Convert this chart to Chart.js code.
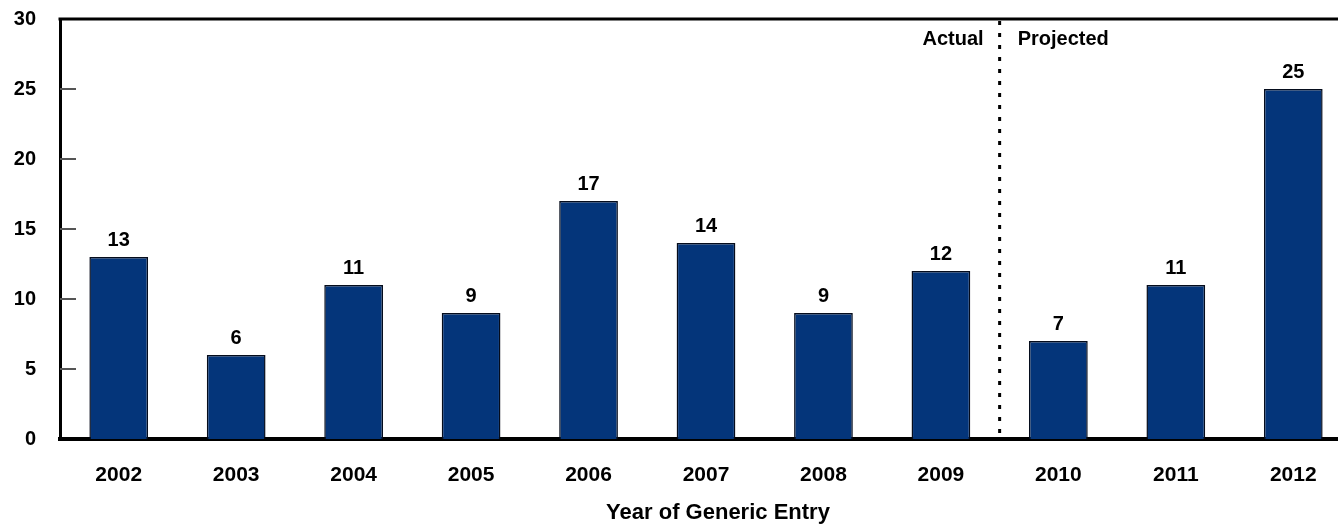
<!DOCTYPE html>
<html>
<head>
<meta charset="utf-8">
<title>Year of Generic Entry</title>
<script src="https://cdn.jsdelivr.net/npm/chart.js@4/dist/chart.umd.min.js"></script>
<style>
  html, body { margin: 0; padding: 0; background: #ffffff; overflow: hidden; }
  #wrap { position: relative; width: 1352px; height: 527px; }
</style>
</head>
<body>
<div id="wrap"><canvas id="chart"></canvas></div>
<script>
// Number of generic entries per year
const years = ['2002', '2003', '2004', '2005', '2006', '2007', '2008', '2009', '2010', '2011', '2012'];
const entries = [13, 6, 11, 9, 17, 14, 9, 12, 7, 11, 25];
const yTicks = [0, 5, 10, 15, 20, 25, 30];
const lastActualIndex = 7;           // 2009 is the last actual year
const periodLabels = ['Actual', 'Projected'];
const xTitle = 'Year of Generic Entry';

const FONT = "'Liberation Sans', Arial, sans-serif";
const NAVY = '#04357A';

// Frame line on top, small inward ticks, value labels, divider and period labels
const decorations = {
  id: 'decorations',
  afterDatasetsDraw(chart) {
    const { ctx, chartArea: a, scales: { x, y } } = chart;
    ctx.save();

    // top frame line
    ctx.strokeStyle = '#000';
    ctx.lineWidth = 3;
    ctx.beginPath();
    ctx.moveTo(a.left - 1.5, a.top);
    ctx.lineTo(a.right, a.top);
    ctx.stroke();

    // inward tick marks on the value axis
    ctx.strokeStyle = '#555';
    ctx.lineWidth = 2;
    yTicks.slice(1, -1).forEach(v => {
      const py = Math.round(y.getPixelForValue(v));
      ctx.beginPath();
      ctx.moveTo(a.left, py);
      ctx.lineTo(a.left + 16, py);
      ctx.stroke();
    });

    // value labels above bars
    ctx.fillStyle = '#000';
    ctx.font = 'bold 20px ' + FONT;
    ctx.textAlign = 'center';
    ctx.textBaseline = 'alphabetic';
    const meta = chart.getDatasetMeta(0);
    meta.data.forEach((bar, i) => {
      ctx.fillText(String(entries[i]), bar.x, bar.y - 11);
    });

    // dotted divider between actual and projected years
    const divX = (x.getPixelForValue(lastActualIndex) + x.getPixelForValue(lastActualIndex + 1)) / 2;
    ctx.strokeStyle = '#000';
    ctx.lineWidth = 3;
    ctx.setLineDash([4, 8]);
    ctx.beginPath();
    ctx.moveTo(divX, a.top + 2);
    ctx.lineTo(divX, a.bottom);
    ctx.stroke();
    ctx.setLineDash([]);

    // period labels
    ctx.font = 'bold 20px ' + FONT;
    ctx.textAlign = 'right';
    ctx.fillText(periodLabels[0], divX - 16, a.top + 26);
    ctx.textAlign = 'left';
    ctx.fillText(periodLabels[1], divX + 18, a.top + 26);

    // axis title
    ctx.font = 'bold 22px ' + FONT;
    ctx.textAlign = 'center';
    ctx.fillText(xTitle, (a.left + a.right) / 2 + 12, 519);

    ctx.restore();
  }
};

new Chart(document.getElementById('chart'), {
  type: 'bar',
  data: {
    labels: years,
    datasets: [{
      data: entries,
      backgroundColor: NAVY,
      borderColor: '#050c1c',
      borderWidth: 1.5,
      borderSkipped: 'bottom',
      categoryPercentage: 1.0,
      barPercentage: 0.5
    }]
  },
  options: {
    responsive: true,
    maintainAspectRatio: false,
    animation: false,
    devicePixelRatio: 1,
    layout: { padding: { top: 19, right: 0, bottom: 0, left: 0 } },
    plugins: {
      legend: { display: false },
      tooltip: { enabled: false }
    },
    scales: {
      x: {
        grid: { display: false, drawTicks: false },
        border: { display: true, color: '#000', width: 4 },
        ticks: {
          color: '#000',
          font: { family: FONT, size: 21, weight: 'bold' },
          padding: 24,
          maxRotation: 0,
          autoSkip: false
        },
        afterFit(scale) { scale.height = 88; }
      },
      y: {
        min: 0,
        max: 30,
        afterBuildTicks(scale) { scale.ticks = yTicks.map(v => ({ value: v })); },
        grid: { display: false, drawTicks: false },
        border: { display: true, color: '#000', width: 3 },
        ticks: {
          color: '#000',
          font: { family: FONT, size: 20, weight: 'bold' },
          padding: 24
        },
        afterFit(scale) {
          scale.width = 60;
          scale.paddingTop = 0;
          scale.paddingBottom = 0;
        }
      }
    }
  },
  plugins: [decorations]
});
</script>
</body>
</html>
